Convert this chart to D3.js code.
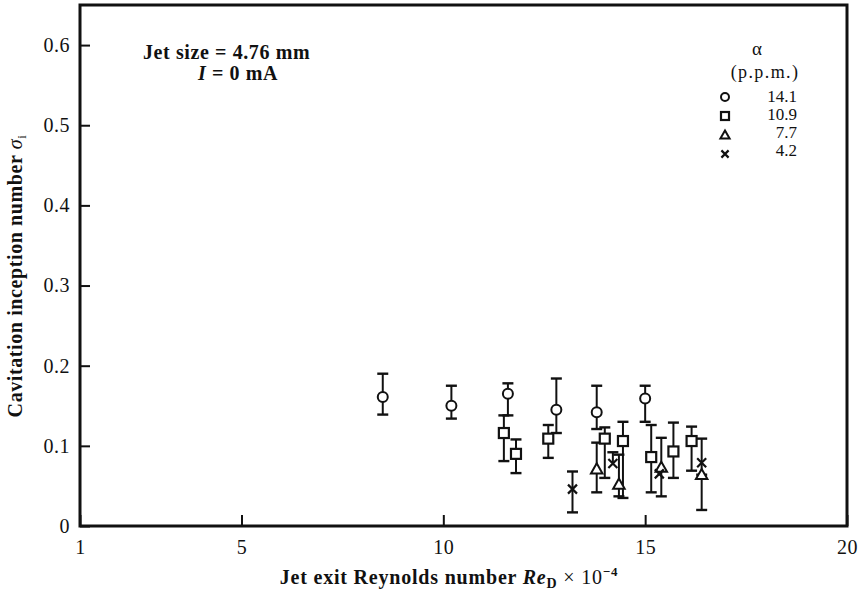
<!DOCTYPE html>
<html>
<head>
<meta charset="utf-8">
<script src="https://cdn.jsdelivr.net/npm/d3@7"></script>
<style>
  body { margin: 0; background: #fff; }
  svg { display: block; font-family: "Liberation Serif", "Times New Roman", serif; }
</style>
</head>
<body>
<div id="chart"></div>
<script>
// data (Re_D x 1e-4 vs sigma_i, with error bars)
let circX  = [8.5, 10.2, 11.6, 12.8, 13.8, 15.0];
let circY  = [0.161, 0.150, 0.165, 0.145, 0.142, 0.159];
let circLo = [0.139, 0.134, 0.138, 0.116, 0.121, 0.130];
let circHi = [0.190, 0.175, 0.178, 0.184, 0.175, 0.175];

let sqX  = [11.5, 11.8, 12.6, 14.0, 14.45, 15.15, 15.7, 16.15];
let sqY  = [0.116, 0.090, 0.109, 0.109, 0.106, 0.086, 0.093, 0.106];
let sqLo = [0.081, 0.066, 0.085, 0.060, 0.035, 0.042, 0.060, 0.069];
let sqHi = [0.138, 0.108, 0.126, 0.123, 0.130, 0.126, 0.129, 0.124];

let triX  = [13.8, 14.35, 15.4, 16.4];
let triY  = [0.071, 0.052, 0.073, 0.064];
let triLo = [0.042, 0.037, 0.037, 0.020];
let triHi = [0.104, 0.089, 0.110, 0.064];

let crsX  = [13.2, 14.2, 15.35, 16.4];
let crsY  = [0.046, 0.078, 0.065, 0.079];
let crsLo = [0.017, 0.078, 0.065, 0.064];
let crsHi = [0.068, 0.092, 0.065, 0.109];

let xTicks = [1, 5, 10, 15, 20];
let yTicks = [0, 0.1, 0.2, 0.3, 0.4, 0.5, 0.6];
let legendTitle = ["\u03b1", "(p.p.m.)"];
let legendLabels = ["14.1", "10.9", "7.7", "4.2"];
let legendShapes = ["circle", "square", "triangle", "cross"];

let w = 858, h = 594;
let padL = 80, padR = 847, padT = 5, padB = 526;
let ink = "#111";

let svg = d3.select("#chart").append("svg")
  .attr("width", w).attr("height", h);

let x = d3.scaleLinear().domain([1, 20]).range([padL, padR]);
let y = d3.scaleLinear().domain([0, 0.65]).range([padB, padT]);

// axes (ticks point inwards)
let xAxis = d3.axisBottom(x).tickValues(xTicks).tickSizeInner(-11).tickSizeOuter(0).tickPadding(14);
let gx = svg.append("g").attr("transform", `translate(0,${padB})`).call(xAxis);
let yAxis = d3.axisLeft(y).tickValues(yTicks).tickSizeInner(-10).tickSizeOuter(0).tickPadding(10)
  .tickFormat(d => d === 0 ? "0" : d.toFixed(1));
let gy = svg.append("g").attr("transform", `translate(${padL},0)`).call(yAxis);

[gx, gy].forEach(g => {
  g.select(".domain").remove();
  g.selectAll(".tick line").attr("stroke", ink).attr("stroke-width", 2);
  g.selectAll(".tick text").attr("fill", ink).style("font-size", "20px")
    .style("letter-spacing", "0.5px")
    .style("font-family", "'Liberation Serif', serif");
});

// frame
svg.append("rect")
  .attr("x", padL).attr("y", padT)
  .attr("width", padR - padL).attr("height", padB - padT)
  .attr("fill", "none").attr("stroke", ink).attr("stroke-width", 3);

// axis titles
let xt = svg.append("text").attr("x", 449).attr("y", 584).attr("text-anchor", "middle")
  .attr("fill", ink).style("font-size", "20px").style("font-weight", "bold")
  .style("letter-spacing", "0.8px");
xt.append("tspan").text("Jet exit Reynolds number ");
xt.append("tspan").style("font-style", "italic").text("Re");
xt.append("tspan").attr("dy", 4).style("font-size", "14px").text("D");
xt.append("tspan").attr("dy", -4).style("font-weight", "normal").text(" \u00d7 10");
xt.append("tspan").attr("dy", -8).style("font-size", "13px").text("\u22124");

let yt = svg.append("text").attr("transform", "translate(22,276) rotate(-90)")
  .attr("text-anchor", "middle").attr("fill", ink)
  .style("font-size", "20px").style("font-weight", "bold").style("letter-spacing", "0.6px");
yt.append("tspan").text("Cavitation inception number ");
yt.append("tspan").style("font-style", "italic").style("font-weight", "normal").text("\u03c3");
yt.append("tspan").attr("dy", 4).style("font-size", "13px").style("font-weight", "normal").text("i");

// annotation
svg.append("text").attr("x", 143).attr("y", 59).attr("fill", ink)
  .style("font-size", "20px").style("font-weight", "bold").style("letter-spacing", "0.6px")
  .text("Jet size = 4.76 mm");
let ann = svg.append("text").attr("x", 198).attr("y", 80).attr("fill", ink)
  .style("font-size", "20px").style("font-weight", "bold").style("letter-spacing", "0.6px");
ann.append("tspan").style("font-style", "italic").text("I");
ann.append("tspan").text(" = 0 mA");

// marker drawing
function drawMarker(g, shape, cx, cy, s) {
  if (shape === "circle") {
    g.append("circle").attr("cx", cx).attr("cy", cy).attr("r", s)
      .attr("fill", "#fff").attr("stroke", ink).attr("stroke-width", 2);
  } else if (shape === "square") {
    g.append("rect").attr("x", cx - s).attr("y", cy - s).attr("width", 2 * s).attr("height", 2 * s)
      .attr("fill", "#fff").attr("stroke", ink).attr("stroke-width", 2.2);
  } else if (shape === "triangle") {
    let r = s * 1.15;
    g.append("path")
      .attr("d", `M${cx},${cy - r}L${cx + r},${cy + r * 0.75}L${cx - r},${cy + r * 0.75}Z`)
      .attr("fill", "#fff").attr("stroke", ink).attr("stroke-width", 2);
  } else {
    let r = s * 0.9;
    g.append("path")
      .attr("d", `M${cx - r},${cy - r}L${cx + r},${cy + r}M${cx + r},${cy - r}L${cx - r},${cy + r}`)
      .attr("stroke", ink).attr("stroke-width", 2.2);
  }
}

let series = [
  {shape: "circle", xs: circX, ys: circY, lo: circLo, hi: circHi},
  {shape: "square", xs: sqX, ys: sqY, lo: sqLo, hi: sqHi},
  {shape: "triangle", xs: triX, ys: triY, lo: triLo, hi: triHi},
  {shape: "cross", xs: crsX, ys: crsY, lo: crsLo, hi: crsHi}
];

// error bars first
let bars = svg.append("g").attr("stroke", ink).attr("stroke-width", 2);
series.forEach(s => {
  s.xs.forEach((v, i) => {
    let px = x(v);
    [s.lo[i], s.hi[i]].forEach(b => {
      if (b === s.ys[i]) return;
      bars.append("line").attr("x1", px).attr("x2", px).attr("y1", y(s.ys[i])).attr("y2", y(b));
      bars.append("line").attr("x1", px - 5.5).attr("x2", px + 5.5).attr("y1", y(b)).attr("y2", y(b))
        .attr("stroke-width", 2.4);
    });
  });
});

let marks = svg.append("g");
series.forEach(s => {
  s.xs.forEach((v, i) => drawMarker(marks, s.shape, x(v), y(s.ys[i]), 5));
});

// legend
let lg = svg.append("g").attr("fill", ink).style("font-size", "17px");
lg.append("text").attr("x", 757).attr("y", 55).attr("text-anchor", "middle")
  .style("font-size", "19px").text(legendTitle[0]);
lg.append("text").attr("x", 765).attr("y", 78).attr("text-anchor", "middle")
  .style("font-size", "18px").style("letter-spacing", "1.4px").text(legendTitle[1]);
legendLabels.forEach((t, i) => {
  lg.append("text").attr("x", 797).attr("y", 102 + i * 18).attr("text-anchor", "end").text(t);
  drawMarker(lg, legendShapes[i], 725, 97 + i * 19, 4);
});
</script>
</body>
</html>
